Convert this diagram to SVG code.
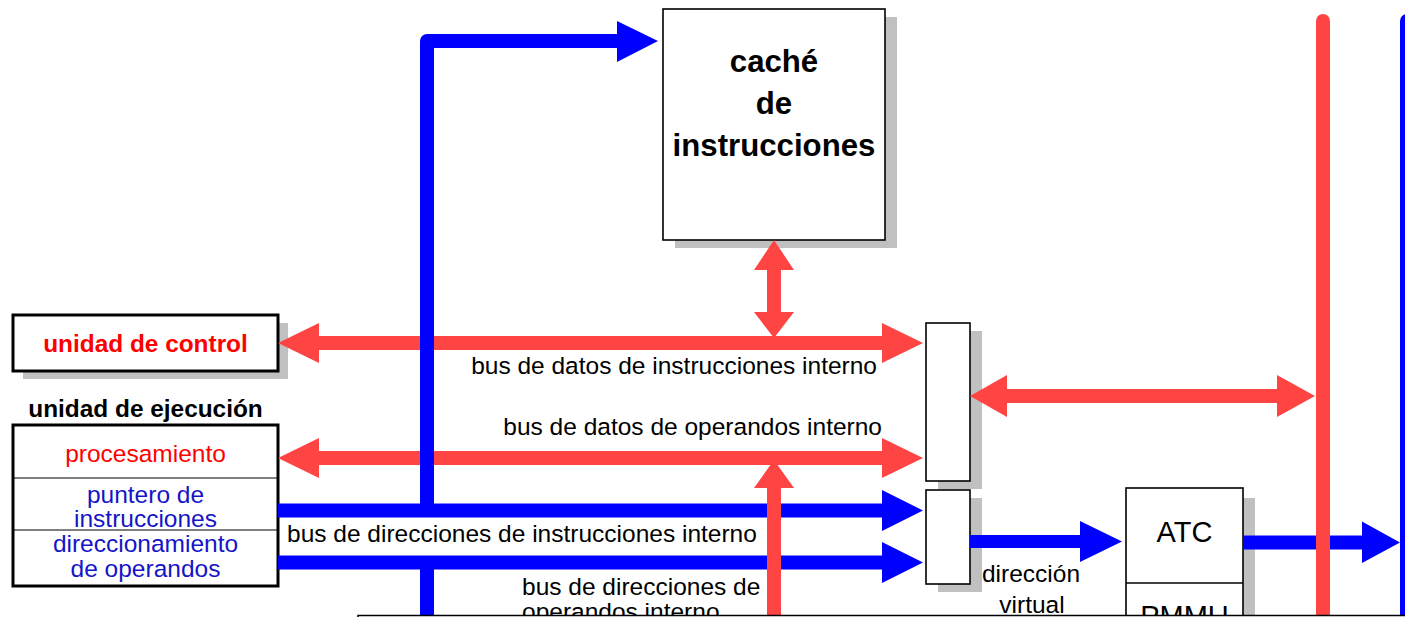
<svg xmlns="http://www.w3.org/2000/svg" width="1405" height="617" viewBox="0 0 1405 617">
<style>
text{font-family:"Liberation Sans",Arial,sans-serif;font-size:24.5px;fill:#000}
.b{font-weight:bold}
.c{text-anchor:middle}
.e{text-anchor:end}
.red{fill:#ff0000}
.blu{fill:#1414c8}
.box{fill:#fff;stroke:#000;stroke-width:1.6}
.thick{fill:#fff;stroke:#000;stroke-width:3}
.shadow{fill:#c0c0c0}
.rf{fill:#ff4444}
.bf{fill:#0000ff}
.rs{fill:none;stroke:#ff4444;stroke-width:14}
.bs{fill:none;stroke:#0000ff;stroke-width:14}
</style>
<rect width="1405" height="617" fill="#fff"/>
<g id="cache">
  <rect class="shadow" x="675" y="17" width="222" height="231"/>
  <rect class="box" x="663" y="9" width="222" height="231"/>
  <text class="b c" x="774" y="72" style="font-size:31.2px">caché</text>
  <text class="b c" x="774" y="114" style="font-size:31.2px">de</text>
  <text class="b c" x="774" y="156" style="font-size:31.2px">instrucciones</text>
</g>
<g id="control">
  <rect class="shadow" x="23" y="323" width="265" height="56"/>
  <rect class="thick" x="13" y="315" width="265" height="56"/>
  <text class="b c red" x="145.5" y="352" style="font-size:24.4px">unidad de control</text>
</g>
<g id="ejecucion">
  <text class="b c" x="145.5" y="417" style="font-size:24.4px">unidad de ejecución</text>
  <rect class="thick" x="13" y="425" width="265" height="161"/>
  <line x1="13" y1="478" x2="278" y2="478" stroke="#000" stroke-width="1.2"/>
  <line x1="13" y1="530" x2="278" y2="530" stroke="#000" stroke-width="1.2"/>
  <text class="c red" x="145.5" y="462">procesamiento</text>
  <text class="c blu" x="145.5" y="503">puntero de</text>
  <text class="c blu" x="145.5" y="527">instrucciones</text>
  <text class="c blu" x="145.5" y="552">direccionamiento</text>
  <text class="c blu" x="145.5" y="577">de operandos</text>
</g>
<g id="latch1">
  <rect class="shadow" x="938" y="331" width="44" height="158"/>
  <rect class="box" x="926" y="323" width="44" height="158"/>
</g>
<g id="latch2">
  <rect class="shadow" x="938" y="498" width="44" height="94"/>
  <rect class="box" x="926" y="490" width="44" height="94"/>
</g>
<g id="atc">
  <rect class="shadow" x="1138" y="498" width="117" height="140"/>
  <rect class="box" x="1126" y="488" width="117" height="150"/>
  <line x1="1126" y1="583" x2="1243" y2="583" stroke="#000" stroke-width="1.6"/>
  <text class="c" x="1184.5" y="542" style="font-size:29px">ATC</text>
  <text class="c" x="1184.5" y="626" style="font-size:29px">PMMU</text>
</g>
<g id="connectors">
  <path class="rf" d="M278,343 L319,323 L319,336 L882,336 L882,323 L923,343 L882,363 L882,350 L319,350 L319,363 Z"/>
  <path class="rf" d="M278,458 L319,438 L319,451 L882,451 L882,438 L923,458 L882,478 L882,465 L319,465 L319,478 Z"/>
  <path class="rf" d="M774,240 L794,270 L781,270 L781,312 L794,312 L774,338 L754,312 L767,312 L767,270 L754,270 Z"/>
  <path class="bs" stroke-linejoin="round" d="M427,511 L427,41 L620,41"/>
  <path class="bf" d="M617,21 L658,41 L617,62 Z"/>
  <path class="bs" d="M427,562 L427,617"/>
  <path class="bf" d="M278,503.5 L882,503.5 L882,490 L923,510.5 L882,531 L882,517.5 L278,517.5 Z"/>
  <path class="bf" d="M278,555.5 L882,555.5 L882,542 L923,562.5 L882,583 L882,569.5 L278,569.5 Z"/>
  <path class="rf" d="M774,460 L794,488 L781,488 L781,617 L767,617 L767,488 L754,488 Z"/>
  <path class="bf" d="M970,535 L1080,535 L1080,521 L1122,541.5 L1080,562 L1080,548 L970,548 Z"/>
  <path class="bf" d="M1243,535.5 L1362,535.5 L1362,521.5 L1400,542.5 L1362,563 L1362,549.5 L1243,549.5 Z"/>
  <path class="rf" d="M970,396 L1007,375 L1007,389 L1277,389 L1277,375 L1315,396 L1277,417 L1277,403 L1007,403 L1007,417 Z"/>
  <path class="rs" stroke-linecap="round" d="M1323,21 L1323,630"/>
  <path class="bs" stroke-linecap="round" d="M1407,21 L1407,630"/>
</g>
<g id="labels">
  <text class="e" x="877" y="374">bus de datos de instrucciones interno</text>
  <text class="e" x="882" y="435">bus de datos de operandos interno</text>
  <text x="287" y="542">bus de direcciones de instrucciones interno</text>
  <text x="522" y="595">bus de direcciones de</text>
  <text x="522" y="620">operandos interno</text>
  <text class="c" x="1031" y="582">dirección</text>
  <text class="c" x="1032" y="613">virtual</text>
</g>
<rect x="358" y="615.5" width="1060" height="10" fill="#fff" stroke="#000" stroke-width="1.5"/>
</svg>
